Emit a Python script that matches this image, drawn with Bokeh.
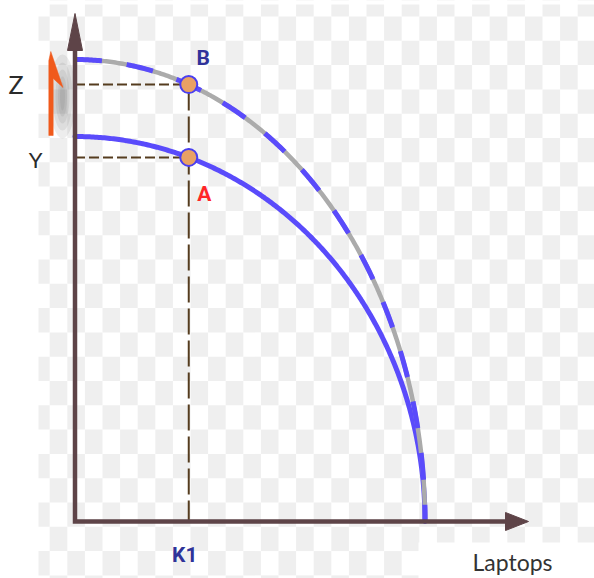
import numpy as np
from bokeh.plotting import figure
from bokeh.models import Range1d
from bokeh.embed import file_html
from bokeh.resources import INLINE
from bokeh.core.properties import value

# ---- production possibility data ----
curve_names = ["original", "shifted"]
laptops_max = [10.0, 10.0]      # both frontiers meet the laptops axis at the same point
goods_max = [10.0, 12.0]        # vertical-axis intercepts of the two frontiers
k1 = 3.25                       # laptops produced at A and B
point_names = ["A", "B"]
level_names = ["Y", "Z"]
x_label = "Laptops"
k_label = "K1"

# ---- canvas geometry (pixels) ----
W, H = 594, 578
OX, OY = 74.5, 521.0            # pixel position of the origin
SX, SY = 35.0, 38.5             # pixels per data unit


def X(px):
    return (px - OX) / SX


def Y(py):
    return (OY - py) / SY


def PX(x):
    return OX + x * SX


def PY(y):
    return OY - y * SY


p = figure(width=W, height=H, output_backend="svg", toolbar_location=None,
           x_range=Range1d(X(0), X(W)), y_range=Range1d(Y(H), Y(0)),
           min_border=0, outline_line_color=None)
p.axis.visible = False
p.grid.visible = False
p.background_fill_color = "white"
p.border_fill_color = "white"

# ---- checkered backdrop ----
cw, ch = 17.6, 24.3
col0 = 454 - cw * 24
row0 = 16 - ch
ql, qr, qt, qb = [], [], [], []
i = 0
cx = col0
while cx < W:
    j = 0
    cy = row0
    while cy < H:
        if (i + j) % 2 == 1:
            ql.append(X(cx)); qr.append(X(cx + cw))
            qt.append(Y(cy)); qb.append(Y(cy + ch))
        cy += ch
        j += 1
    cx += cw
    i += 1
p.quad(left=ql, right=qr, top=qt, bottom=qb, fill_color="#efefef", line_color=None)
# plain margins
p.quad(left=[X(0), X(0), X(418)], right=[X(38), X(W), X(W)],
       top=[Y(0), Y(0), Y(542)], bottom=[Y(H), Y(4), Y(H)],
       fill_color="white", line_color=None)

# soft shadow beside the vertical axis
for w, h in [(26, 84), (20, 68), (14, 54), (9, 40), (5, 28)]:
    p.ellipse(x=[X(62)], y=[Y(96)], width=w / SX, height=h / SY,
              fill_color="#6f6f6f", fill_alpha=0.12, line_color=None)

# ---- frontier curves ----
t = np.linspace(0, np.pi / 2, 300)
curves = {}
for name, lm, gm in zip(curve_names, laptops_max, goods_max):
    curves[name] = (lm * np.sin(t), gm * np.cos(t))

# points on each frontier at K1
pt_y = [gm * np.sqrt(1 - (k1 / lm) ** 2) for lm, gm in zip(laptops_max, goods_max)]
yA, yB = pt_y

# dashed guide lines
guide = "#553c1f"
p.line([0, k1], [yA, yA], line_color=guide, line_width=2, line_dash="10 4")
p.line([0, k1], [yB, yB], line_color=guide, line_width=2, line_dash="10 4")
p.line([k1, k1], [yB, 0], line_color=guide, line_width=2, line_dash="26 6")

blue = "#5a4bfb"
xs, ys = curves["original"]
p.line(xs, ys, line_color=blue, line_width=5, line_cap="round")
xs, ys = curves["shifted"]
p.line(xs, ys, line_color="#ababab", line_width=4.5)
p.line(xs, ys, line_color=blue, line_width=5, line_dash="27 25")

# ---- axes with arrowheads ----
axis_c = "#5e4448"
p.line([0, 0, X(507)], [Y(48), 0, 0], line_color=axis_c, line_width=4.5,
       line_join="miter")
p.patch([X(67), X(74.5), X(82)], [Y(50), Y(13), Y(50)], fill_color=axis_c,
        line_color=axis_c, line_width=1)
p.patch([X(505), X(528), X(505)], [Y(512), Y(521), Y(530)], fill_color=axis_c,
        line_color=axis_c, line_width=1)

# ---- points A and B ----
p.scatter([k1, k1], pt_y, size=17, fill_color="#e9a164", line_color="#4a3ff0",
          line_width=2)

# ---- orange shift arrow ----
orange = "#f05a1c"
p.patch([X(48.3), X(48.3), X(50.3), X(62.5), X(52.7), X(52.7)],
        [Y(135), Y(60), Y(51), Y(87), Y(78), Y(135)],
        fill_color=orange, line_color=orange, line_width=0.5)

# ---- labels ----
def label(x, y, txt, color, size, style="normal", font="Lato"):
    p.text([x], [y], text=[txt], text_color=color, text_font=value(font),
           text_font_size=f"{size}px", text_font_style=style,
           text_align="center", text_baseline="middle")


label(X(15.5), Y(PY(yB) - 1), level_names[1], "#2b2b2b", 25)
label(X(35), Y(PY(yA) + 2), level_names[0], "#2b2b2b", 22)
label(X(PX(k1) + 14.5), Y(PY(yB) - 27), point_names[1], "#30339a", 21, "bold", "Roboto")
label(X(PX(k1) + 15.5), Y(PY(yA) + 37), point_names[0], "#ff2626", 21, "bold", "Roboto")
label(k1 - 4 / SX, Y(554), k_label, "#2f3399", 21, "bold", "Roboto")
label(X(512), Y(561), x_label, "#333333", 23)

open("out.html", "w").write(file_html(p, INLINE))
